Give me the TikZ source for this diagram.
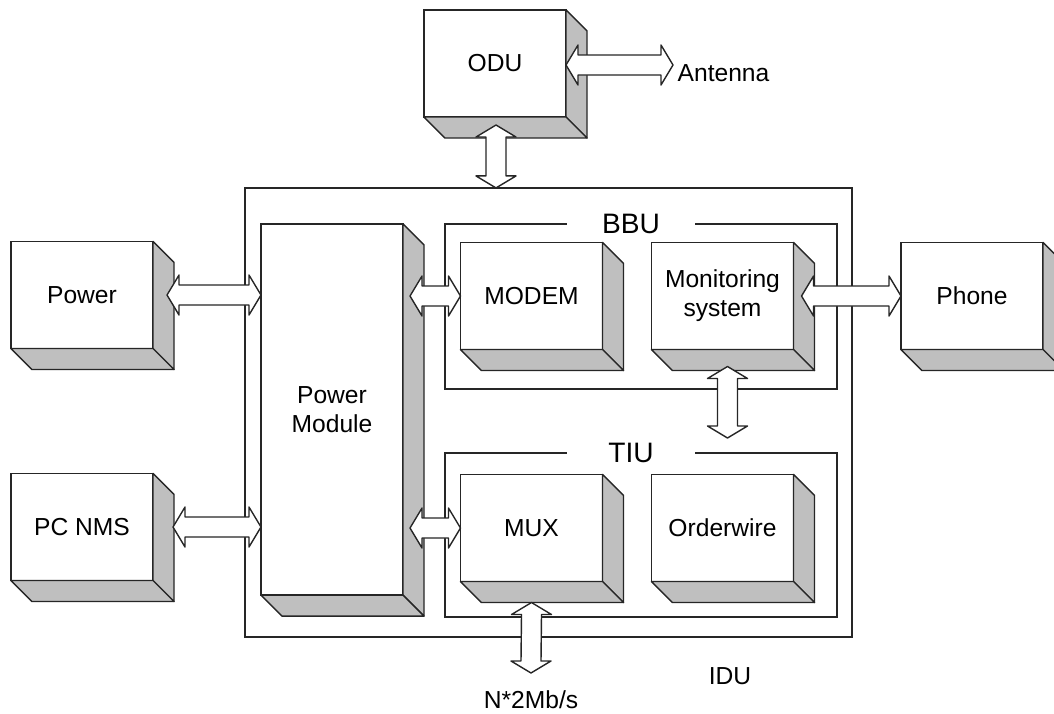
\documentclass[tikz,border=0pt]{standalone}
\usepackage{fontspec}
\setmainfont{Liberation Sans}
\usepackage{tikz}
\usetikzlibrary{
    positioning, % Required for relative placement
    calc         % Required for coordinate calculations
}

\tikzset{
    unit/.style={draw=black!85, line width=1pt, fill=white, minimum width=3.55cm,
        minimum height=2.675cm, inner sep=0pt, outer sep=0pt, align=center,
        font=\fontsize{17.5}{20.5}\selectfont},
    sideface/.style={draw=black!85, line width=1pt, fill=black!25, line join=round},
    frame/.style={draw=black!85, line width=1pt, inner sep=0pt, outer sep=0pt},
    tag/.style={font=\fontsize{17.5}{20.5}\selectfont, inner sep=1pt},
    title/.style={font=\fontsize{20}{24}\selectfont, fill=white, minimum width=3.2cm, inner sep=1pt},
    % hollow double arrows, left to right and top to bottom
    hlink/.style={draw=black!85, line width=1pt, fill=white, line join=round,
        to path={(\tikztostart) -- ++(12,-20) -- ++(0,10) -- ($(\tikztotarget)+(-12,-10)$)
            -- ++(0,-10) -- (\tikztotarget) -- ++(-12,20) -- ++(0,-10)
            -- ($(\tikztostart)+(12,10)$) -- ++(0,10) -- cycle}},
    vlink/.style={draw=black!85, line width=1pt, fill=white, line join=round,
        to path={(\tikztostart) -- ++(-20,12) -- ++(10,0) -- ($(\tikztotarget)+(-10,-12)$)
            -- ++(-10,0) -- (\tikztotarget) -- ++(20,-12) -- ++(-10,0)
            -- ($(\tikztostart)+(10,12)$) -- ++(10,0) -- cycle}}
}

\begin{document}
\begin{tikzpicture}[x=0.025cm, y=-0.025cm]
    \useasboundingbox (0,0) rectangle (1054,713);

    % Units
    \node[unit] (odu) at (495,63.5) {ODU};
    \node[unit] (pwr) at (82,295) {Power};
    \node[unit] (nms) at (82,527) {PC NMS};
    \node[unit] (phone) at (972,296) {Phone};
    \node[unit, minimum height=9.275cm] (pm) at (332,409.5) {Power\\Module};
    \node[unit] (modem) at (531.5,296) {MODEM};
    \node[unit] (mon) at (722.5,296) {Monitoring\\system};
    \node[unit] (mux) at (531.5,528) {MUX};
    \node[unit] (ow) at (722.5,528) {Orderwire};

    % 3D sides
    \foreach \b in {odu,pwr,nms,phone,pm,modem,mon,mux,ow}{
        \filldraw[sideface] (\b.north east) -- ++(21,21) -- ($(\b.south east)+(21,21)$) -- (\b.south east) -- cycle;
        \filldraw[sideface] (\b.south west) -- ++(21,21) -- ($(\b.south east)+(21,21)$) -- (\b.south east) -- cycle;
    }

    % Free ends and labels
    \coordinate (antpt) at (673,65);
    \node[tag, anchor=west] (ant) at (676,73) {Antenna};
    \coordinate (ratept) at (531,673);
    \node[tag] (rate) at (531,700) {N*2Mb/s};

    % Frames
    \node[frame, draw, minimum width=15.175cm, minimum height=11.225cm] (idu) at (548.5,412.5) {};
    \node[frame, draw, minimum width=9.8cm, minimum height=4.125cm] (bbu) at (641,306.5) {};
    \node[frame, draw, minimum width=9.8cm, minimum height=4.1cm] (tiu) at (641,535) {};
    \node[title] (bbutxt) at (631,224) {BBU};
    \node[title] (tiutxt) at (631,453) {TIU};
    \node[tag] (idutxt) at (730,676) {IDU};

    % Links
    \draw[vlink] ($(odu.south)+(1,8)$) to ($(odu.south |- idu.north)+(1,0)$);
    \draw[hlink] (odu.east |- antpt) to (antpt);
    \draw[hlink] ($(pwr.east)+(14,0)$) to (pwr.east -| pm.west);
    \draw[hlink] ($(nms.east)+(20,0)$) to (nms.east -| pm.west);
    \draw[hlink] ($(modem.west -| pm.east)+(7,0)$) to (modem.west);
    \draw[hlink] ($(mux.west -| pm.east)+(7,0)$) to (mux.west);
    \draw[hlink] ($(mon.east)+(8,0)$) to (phone.west);
    \draw[vlink] ($(mon.south)+(5,17)$) to ($(mon.south |- tiu.north)+(5,-15)$);
    \draw[vlink] ($(mux.south)+(0,21)$) to (ratept);
\end{tikzpicture}
\end{document}
